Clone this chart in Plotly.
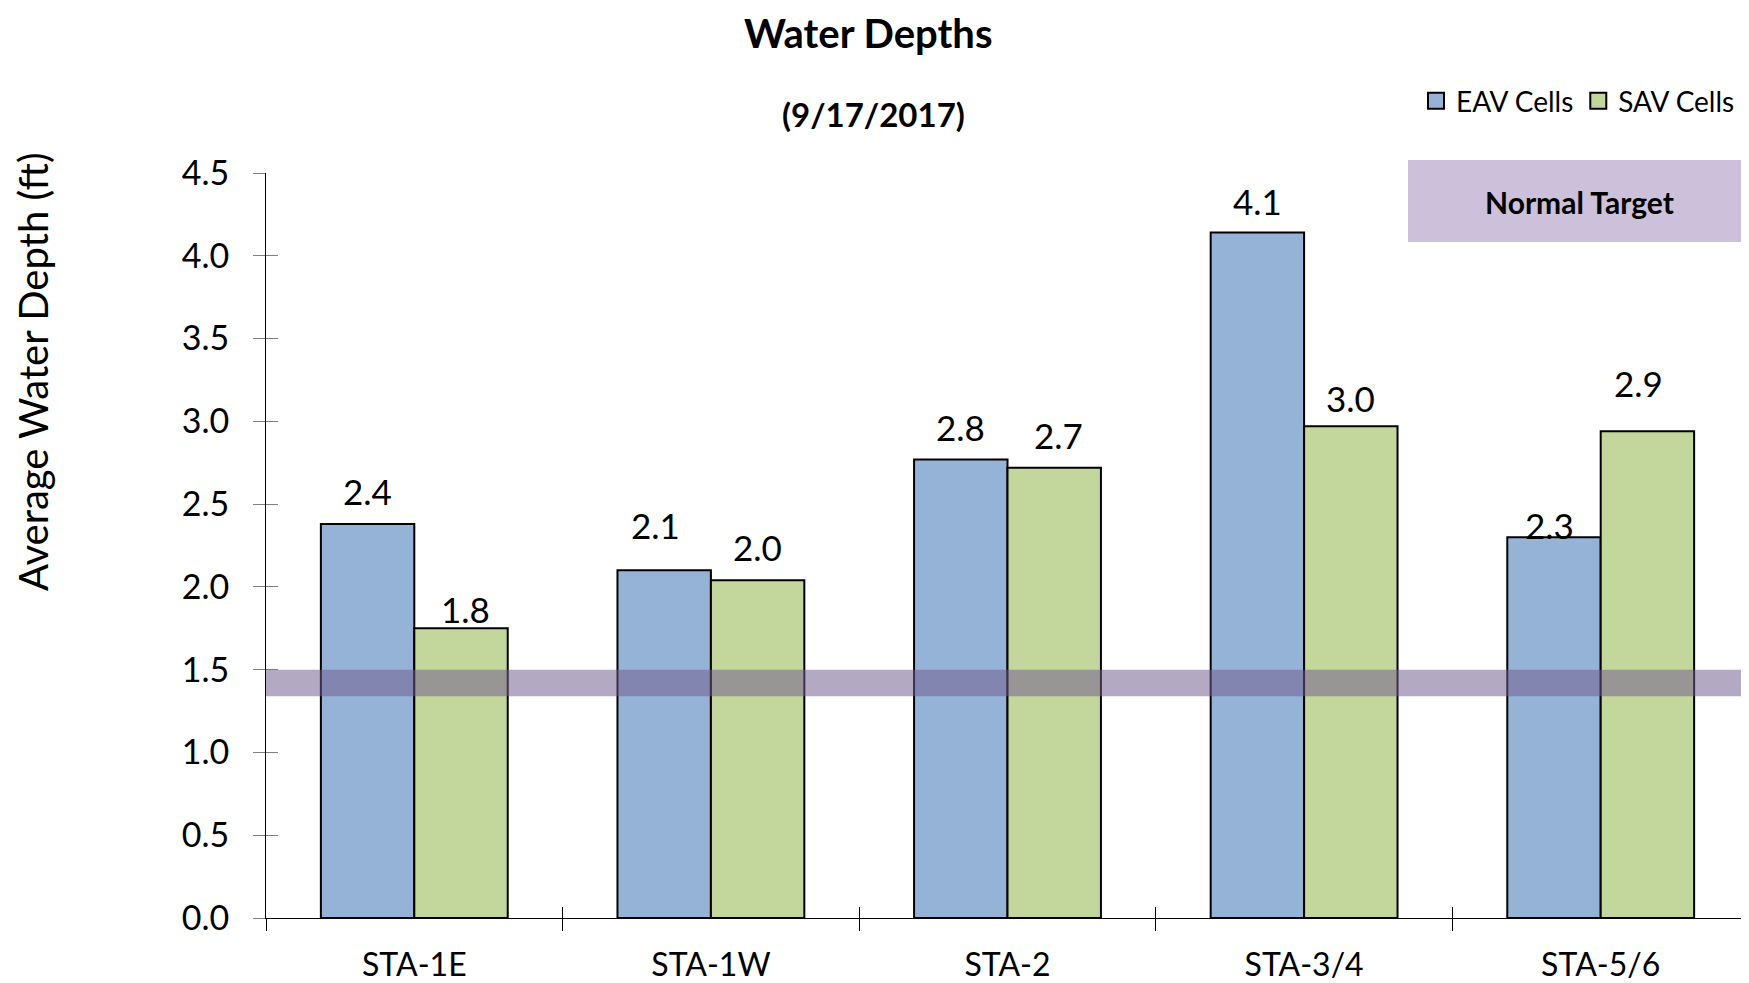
import plotly.graph_objects as go

categories = ["STA-1E", "STA-1W", "STA-2", "STA-3/4", "STA-5/6"]
eav_values = [2.38, 2.10, 2.77, 4.14, 2.30]
sav_values = [1.75, 2.04, 2.72, 2.97, 2.94]
eav_labels = ["2.4", "2.1", "2.8", "4.1", "2.3"]
sav_labels = ["1.8", "2.0", "2.7", "3.0", "2.9"]
target_band = [1.34, 1.50]
y_ticks = [0.0, 0.5, 1.0, 1.5, 2.0, 2.5, 3.0, 3.5, 4.0, 4.5]

# label placement tweaks (pixels), style only
eav_dy = [33, 45, 32, 32, 12]
eav_dx = [0, -9, 0, 0, -4]
sav_dy = [19, 33, 33, 28, 48]
sav_dx = [4, 0, 4, 0, -9]

FONT = "Lato"
OFF = 8  # page body margin
W, H = 1749 - OFF, 983 - OFF
ML, MR, MT, MB = 266 - OFF, 0, 173 - OFF, 65
plot_w = W - ML - MR
plot_h = H - MT - MB
cat_px = plot_w / len(categories)
bargap = 0.37
bar_px = cat_px * (1 - bargap) / 2


def px_x(x):
    return (x - OFF - ML) / plot_w


def px_y(y):
    return (H - MB - (y - OFF)) / plot_h


fig = go.Figure()
fig.add_trace(go.Bar(name="EAV Cells", x=categories, y=eav_values, showlegend=False,
                     marker=dict(color="#95B3D7", line=dict(color="black", width=2))))
fig.add_trace(go.Bar(name="SAV Cells", x=categories, y=sav_values, showlegend=False,
                     marker=dict(color="#C3D69B", line=dict(color="black", width=2))))
for nm, col in [("EAV Cells", "#95B3D7"), ("SAV Cells", "#C3D69B")]:
    fig.add_trace(go.Scatter(name=nm, x=[None], y=[None], mode="markers",
                             marker=dict(symbol="square", size=16, color=col,
                                         line=dict(color="black", width=2))))
fig.add_trace(go.Scatter(x=categories, y=eav_values, xaxis="x2", yaxis="y2",
                         mode="markers", marker=dict(opacity=0), showlegend=False,
                         hoverinfo="skip"))

fig.add_shape(type="rect", xref="paper", yref="y", x0=0, x1=px_x(1745),
              y0=target_band[0], y1=target_band[1],
              fillcolor="rgba(111,92,141,0.53)", line=dict(width=0), layer="above")

fig.add_shape(type="rect", xref="paper", yref="paper", x0=px_x(1408), x1=px_x(1760),
              y0=px_y(242), y1=px_y(160), fillcolor="#CCC0DA", line=dict(width=0))

annotations = []
for i, c in enumerate(categories):
    annotations.append(dict(x=c, y=eav_values[i], text=eav_labels[i], showarrow=False,
                            xanchor="center", yanchor="middle",
                            xshift=-bar_px / 2 + eav_dx[i], yshift=eav_dy[i],
                            font=dict(family=FONT, size=35, color="black")))
    annotations.append(dict(x=c, y=sav_values[i], text=sav_labels[i], showarrow=False,
                            xanchor="center", yanchor="middle",
                            xshift=bar_px / 2 + sav_dx[i], yshift=sav_dy[i],
                            font=dict(family=FONT, size=35, color="black")))
annotations += [
    dict(xref="paper", yref="paper", x=px_x(868), y=px_y(33),
         text="<b>Water Depths</b>", showarrow=False, xanchor="center", yanchor="middle",
         borderpad=0, font=dict(family=FONT, size=40, color="black")),
    dict(xref="paper", yref="paper", x=px_x(873), y=px_y(114),
         text="<b>(9/17/2017)</b>", showarrow=False, xanchor="center", yanchor="middle",
         font=dict(family=FONT, size=33, color="black")),
    dict(xref="paper", yref="paper", x=px_x(33), y=px_y(372),
         text="Average Water Depth (ft)", textangle=-90, showarrow=False,
         xanchor="center", yanchor="middle",
         font=dict(family=FONT, size=40, color="black")),
    dict(xref="paper", yref="paper", x=px_x(1579), y=px_y(202),
         text="<b>Normal Target</b>", showarrow=False, xanchor="center", yanchor="middle",
         font=dict(family=FONT, size=30, color="black")),
]

fig.update_layout(
    width=W, height=H,
    margin=dict(l=ML, r=MR, t=MT, b=MB, autoexpand=False),
    plot_bgcolor="white", paper_bgcolor="white",
    barmode="group", bargap=bargap, bargroupgap=0,
    font=dict(family=FONT, color="black"),
    showlegend=True,
    legend=dict(orientation="h", xanchor="right", yanchor="middle",
                x=px_x(1740), y=px_y(101),
                font=dict(family=FONT, size=28), itemwidth=30,
                bgcolor="rgba(0,0,0,0)", tracegroupgap=0),
    xaxis=dict(type="category", showline=True, linecolor="black", linewidth=1,
               ticks="outside", ticklen=12, tickcolor="black", tickson="boundaries",
               tickfont=dict(family=FONT, size=32), showgrid=False,
               ticklabelstandoff=19, automargin=False),
    yaxis=dict(range=[0, 4.5], tickvals=y_ticks, ticktext=[f"{v:.1f}" for v in y_ticks],
               showline=True, linecolor="black", linewidth=1,
               ticks="outside", ticklen=12, tickcolor="#808080",
               tickfont=dict(family=FONT, size=34), showgrid=False, zeroline=False,
               ticklabelstandoff=17, automargin=False),
    xaxis2=dict(type="category", overlaying="x", matches="x", ticks="inside", ticklen=11,
                tickcolor="black", tickson="boundaries", showticklabels=False,
                showgrid=False, side="bottom", anchor="y"),
    yaxis2=dict(range=[0, 4.5], overlaying="y", tickvals=y_ticks, ticks="inside",
                ticklen=12, tickcolor="#808080", showticklabels=False, showgrid=False,
                zeroline=False, side="left", anchor="x"),
    annotations=annotations,
)

fig.write_html("out.html")
